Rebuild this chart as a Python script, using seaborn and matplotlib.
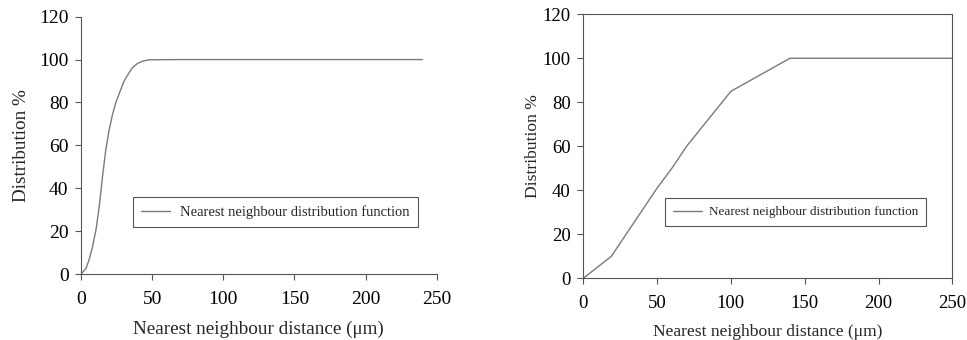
import matplotlib
matplotlib.use("Agg")
import matplotlib.pyplot as plt
import seaborn as sns
import pandas as pd

# Left panel data
left_x = [0, 3.5, 5.8, 8.1, 10.5, 12.8, 15.1, 17.4, 19.8, 22.1, 24.4, 27.9, 30.2,
          33.7, 36, 39.5, 43, 47.7, 70, 240]
left_y = [0, 2.6, 6.9, 12.8, 20.6, 31.5, 45.5, 57.9, 67.3, 74.3, 79.8, 86, 89.9,
          93.8, 96.1, 98.1, 99.2, 99.9, 100, 100]

# Right panel data
right_x = [0, 19, 50, 60, 70, 100, 140, 250]
right_y = [0, 10, 41, 50, 60, 85, 100, 100]

x_ticks = [0, 50, 100, 150, 200, 250]
y_ticks = [0, 20, 40, 60, 80, 100, 120]
series_label = "Nearest neighbour distribution function"
x_label = "Nearest neighbour distance (\u03bcm)"
y_label = "Distribution %"

sns.set_theme(style="ticks")
plt.rcParams['font.family'] = ['Liberation Serif', 'DejaVu Serif']

fig = plt.figure(figsize=(9.67, 3.4), dpi=100)
axL = fig.add_axes([0.0838, 0.194, 0.3678, 0.757])
axR = fig.add_axes([0.6032, 0.1815, 0.3816, 0.7765])

line_color = "#7a7a7a"
spine_color = "#555555"

dfL = pd.DataFrame({"x": left_x, "y": left_y})
dfR = pd.DataFrame({"x": right_x, "y": right_y})

sns.lineplot(data=dfL, x="x", y="y", ax=axL, color=line_color, linewidth=1.0,
             label=series_label, sort=False, estimator=None)
sns.lineplot(data=dfR, x="x", y="y", ax=axR, color=line_color, linewidth=1.0,
             label=series_label, sort=False, estimator=None)

settings = [
    # ax, tick fs, label fs, legend fs, legend anchor (upper left), ylabelpad, hl, htp, bp
    (axL, 14, 13.8, 10.5, (0.146, 0.299), 6.5, 2.0, 0.7, 0.55),
    (axR, 13.5, 12.6, 9.5, (0.221, 0.304), 1.5, 2.2, 0.55, 0.6),
]
for ax, fs_tick, fs_lab, fs_leg, anchor, ylp, hl, htp, bp in settings:
    ax.set_xlim(0, 250)
    ax.set_ylim(0, 120)
    ax.set_xticks(x_ticks)
    ax.set_yticks(y_ticks)
    ax.tick_params(axis='both', direction='out', length=4, width=0.8,
                   colors='black', labelsize=fs_tick, color=spine_color)
    ax.tick_params(axis='x', pad=8)
    ax.tick_params(axis='y', pad=5)
    ax.set_xlabel(x_label, fontsize=fs_lab, labelpad=9)
    ax.set_ylabel(y_label, fontsize=fs_lab, labelpad=ylp)
    for s in ax.spines.values():
        s.set_color(spine_color)
        s.set_linewidth(0.8)
    leg = ax.legend(loc='upper left', bbox_to_anchor=anchor, borderaxespad=0,
                    fontsize=fs_leg, frameon=True, fancybox=False,
                    edgecolor=spine_color, framealpha=1, handlelength=hl,
                    handletextpad=htp, borderpad=bp)
    leg.get_frame().set_linewidth(0.8)

sns.despine(ax=axL)

fig.savefig("out.png", dpi=100)
